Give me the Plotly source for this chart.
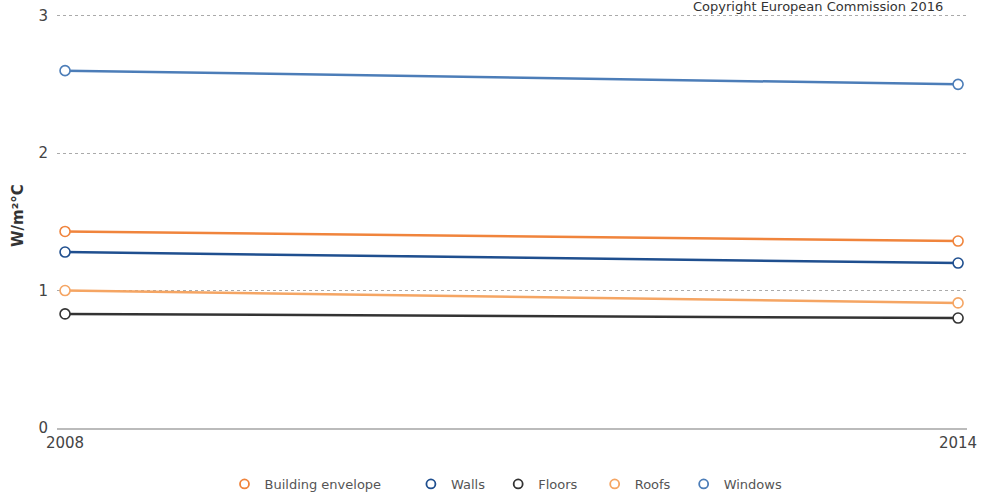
import plotly.graph_objects as go

years = [2008, 2014]
series_names = ["Building envelope", "Walls", "Floors", "Roofs", "Windows"]
building_envelope = [1.43, 1.36]
walls = [1.28, 1.20]
floors = [0.83, 0.80]
roofs = [1.00, 0.91]
windows = [2.60, 2.50]
colors = ["#f0843c", "#1f4f8f", "#333333", "#f5a563", "#4c7db8"]
y_ticks = [0, 1, 2, 3]
x_ticks = [2008, 2014]

values = [building_envelope, walls, floors, roofs, windows]

W, H = 981, 493
ML, MR, MT, MB = 57, 14, 14, 65
PW, PH = W - ML - MR, H - MT - MB

fig = go.Figure()
for name, vals, col in zip(series_names, values, colors):
    fig.add_trace(go.Scatter(
        x=years, y=vals, name=name, mode="lines+markers", showlegend=False,
        line=dict(color=col, width=2.5),
        marker=dict(symbol="circle", size=10, color="white",
                    line=dict(color=col, width=1.6)),
    ))
# legend entries (marker only, like the reference)
pads = [6, 2, 3, 2, 0]
for name, col, p in zip(series_names, colors, pads):
    fig.add_trace(go.Scatter(
        x=[None], y=[None], name=name + "\u00a0" * p, mode="markers",
        marker=dict(symbol="circle", size=9, color="white",
                    line=dict(color=col, width=1.8)),
    ))

fig.update_layout(
    width=W, height=H,
    margin=dict(l=ML, r=MR, t=MT, b=MB),
    paper_bgcolor="white", plot_bgcolor="white",
    font=dict(family="DejaVu Sans", color="#333333"),
    showlegend=True,
    legend=dict(orientation="h", x=0.5 - 6 / PW, xanchor="center", xref="paper",
                yref="container", y=(H - 484) / H, yanchor="middle",
                font=dict(size=13, color="#555555"), itemwidth=30),
    annotations=[
        dict(text="Copyright European Commission 2016", xref="paper", yref="paper",
             x=(945 - ML) / PW, y=1 + (MT - 6.5) / PH, xanchor="right", yanchor="middle",
             showarrow=False, font=dict(size=13, color="#333333")),
        dict(text="<b>W/m²°C</b>", xref="paper", yref="paper",
             x=(18 - ML) / PW, y=(H - MB - 216) / PH, xanchor="center", yanchor="middle",
             textangle=-90, showarrow=False, font=dict(size=15, color="#333333")),
    ],
)
fig.update_xaxes(
    range=[2007.946, 2014.06], tickvals=x_ticks, ticktext=[str(t) for t in x_ticks],
    showgrid=False, zeroline=False, showline=True, linecolor="#bbbbbb", linewidth=1.5,
    tickfont=dict(size=15, color="#444444"), ticks="", ticklen=0, automargin=False,
)
fig.update_yaxes(
    range=[0, 3.012], tickvals=y_ticks, showgrid=True, gridcolor="#aaaaaa", griddash="dot",
    gridwidth=1, zeroline=False, showline=False, automargin=False,
    tickfont=dict(size=15, color="#444444"), ticklabelstandoff=8,
)

fig.write_html("out.html", config={"displayModeBar": False},
               post_script="document.body.style.margin='0';")
